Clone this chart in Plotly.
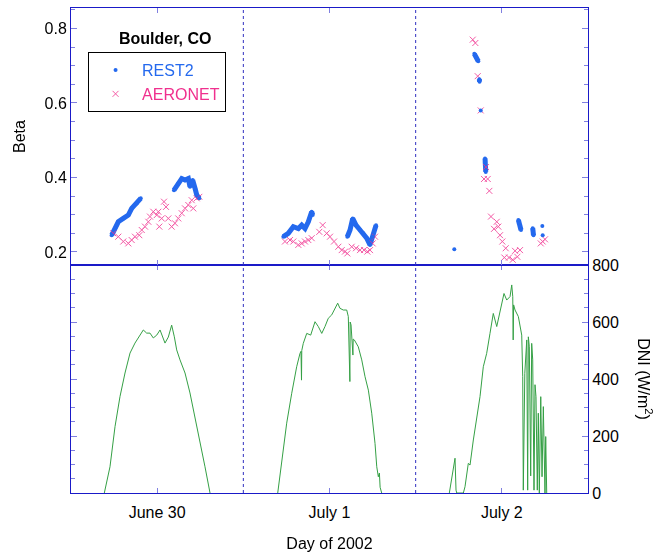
import plotly.graph_objects as go

# ---------------- data (hours since June 30 00:00 local) ----------------
dni_t = [4.64, 5.43, 6.13, 6.82, 7.52, 8.22, 8.91, 9.61, 10.07, 10.54, 11.0, 11.46, 11.94, 12.40,
         13.09, 13.55, 14.02, 14.39, 14.72, 15.18, 15.88, 16.57, 17.27, 17.97, 18.66, 19.36, None,
         28.79, 29.34, 30.04, 30.74, 31.43, 31.89, 32.03, 32.10, 32.14, 32.35, 32.83, 33.38, 33.98,
         34.44, 34.92, 35.37, 35.83, 36.31, 36.77, 37.14, 37.46, 37.92, 38.40, 38.62, 38.84, 38.88,
         39.00, 39.18, 39.26, 39.30, 39.46, 40.01, 40.49, 40.95, 41.41, 41.88, 42.34, 42.58, 42.80,
         42.95, 43.05, 43.27, None,
         52.69, 53.02, 53.48, 53.62, 53.72, 54.64, 54.87, 55.33, 55.57, 56.03, 56.50, 56.96, 57.42,
         57.89, 58.35, 58.81, 59.29, 59.75, 60.30, 60.68, 61.14, 61.38, 61.52, 61.58, 61.64, 61.84,
         62.30, 62.77, 62.91, 62.99, 63.20, 63.47, 63.60, 63.69, 63.83, 64.02, 64.16, 64.30, 64.48,
         64.62, 64.76, 64.94, 65.08, 65.22, 65.42, 65.60, 65.78, 66.01, 66.11, 66.25]
dni_v = [0, 92, 233, 338, 421, 491, 526, 554, 572, 561, 561, 544, 554, 572,
         526, 547, 589, 548, 502, 467, 421, 351, 268, 175, 92, 0, None,
         0, 104, 245, 350, 443, 490, 497, 396, 500, 525, 560, 554, 601,
         584, 560, 584, 613, 625, 648, 666, 648, 642, 642, 619, 391, 600,
         590, 525, 484, 540, 537, 513, 467, 408, 361, 280, 174, 92, 57,
         70, 20, 0, None,
         0, 57, 122, 10, 0, 0, 22, 104, 98, 186, 262, 338, 443,
         490, 560, 630, 584, 642, 700, 677, 689, 730, 689, 537, 660, 642,
         619, 554, 408, 10, 420, 537, 10, 548, 513, 60, 525, 467, 10,
         380, 338, 10, 280, 0, 338, 57, 303, 0, 198, 0]

rest2_t = [5.67, 6.13, 6.59, 7.28, 7.98, 8.45, 9.15, 9.71, None,
           14.34, 14.94, 15.42, 15.88, 16.34, 16.57, 16.95, 17.27, 17.51, 17.87, None,
           29.57, 30.26, 30.96, 31.66, 32.13, 32.59, 33.05, 33.52, 33.66, None,
           38.48, 38.86, 39.23, 39.69, 40.25, 40.71, 41.18, 41.64, 42.01, 42.48, None,
           53.38, None, 56.17, 56.40, 56.72, None, 56.86, 56.90, None, 57.06, None,
           57.66, 57.76, None, 62.30, 62.53, 62.67, None, 64.30, 64.41, None, 65.64, None, 65.69]
rest2_b = [0.245, 0.263, 0.281, 0.290, 0.299, 0.317, 0.330, 0.344, None,
           0.366, 0.384, 0.397, 0.393, 0.397, 0.375, 0.393, 0.371, 0.353, 0.344, None,
           0.241, 0.250, 0.268, 0.263, 0.272, 0.263, 0.281, 0.308, 0.299, None,
           0.241, 0.259, 0.290, 0.272, 0.259, 0.250, 0.237, 0.219, 0.241, 0.272, None,
           0.207, None, 0.732, 0.722, 0.712, None, 0.664, 0.657, None, 0.580, None,
           0.451, 0.415, None, 0.286, 0.270, 0.259, None, 0.264, 0.245, None, 0.270, None, 0.245]

aeronet_t = [5.89, 6.59, 7.28, 7.98, 8.45, 8.91, 9.51, 9.85, 10.31, 10.77, 11.0, 11.46, 11.94,
             12.16, 12.30, 12.63, 12.95, 13.23, 13.55, 14.02, 14.48, 14.94, 15.42, 15.88, 16.34,
             16.81, 17.03, 17.51, 17.87,
             29.80, 30.50, 30.96, 31.66, 32.13, 32.59, 33.05, 33.52, 34.58, 35.05, 35.61, 36.07,
             36.63, 37.23, 37.70, 38.16, 38.48, 39.09, 39.69, 40.25, 40.81, 41.27, 41.64, 42.01, 42.34,
             55.95, 56.31, 56.64, 57.06, 57.52, 57.80, 58.03, 58.26, 58.49, 58.91, 59.29, 59.51,
             59.75, 60.07, 60.35, 60.54, 61.00, 61.52, 61.84, 62.16, 62.53, 65.42, 65.69, 66.01]
aeronet_b = [0.250, 0.241, 0.228, 0.223, 0.232, 0.241, 0.245, 0.259, 0.268, 0.281, 0.295, 0.308, 0.299,
             0.308, 0.268, 0.290, 0.335, 0.321, 0.290, 0.268, 0.277, 0.290, 0.304, 0.317, 0.326,
             0.339, 0.317, 0.344, 0.348,
             0.228, 0.232, 0.228, 0.219, 0.223, 0.228, 0.232, 0.237, 0.254, 0.272, 0.250, 0.241,
             0.228, 0.214, 0.205, 0.201, 0.196, 0.214, 0.210, 0.205, 0.205, 0.201, 0.205, 0.223, 0.241,
             0.770, 0.761, 0.672, 0.580, 0.396, 0.428, 0.396, 0.364, 0.295, 0.262, 0.281, 0.268,
             0.245, 0.228, 0.185, 0.210, 0.185, 0.179, 0.203, 0.187, 0.205, 0.223, 0.228, 0.234]

day_ticks = [12, 36, 60]
day_labels = ["June 30", "July 1", "July 2"]
day_bounds = [24, 48]

# ---------------- figure ----------------
BLUE_AX = "#1a1ac8"
C_REST2 = "#2469ee"
C_AERO = "#f0308e"
C_DNI = "#35a045"
FONT = "Liberation Sans, Arial, sans-serif"

fig = go.Figure()

fig.add_trace(go.Scatter(x=dni_t, y=dni_v, mode="lines", xaxis="x", yaxis="y",
                         line=dict(color=C_DNI, width=1), showlegend=False, connectgaps=False))

fig.add_trace(go.Scatter(x=rest2_t, y=rest2_b, mode="lines", xaxis="x2", yaxis="y2",
                         line=dict(color=C_REST2, width=5), showlegend=False, hoverinfo="skip"))
fig.add_trace(go.Scatter(x=aeronet_t, y=aeronet_b, mode="markers", xaxis="x2", yaxis="y2",
                         name="<span style='color:%s'>AERONET</span>" % C_AERO,
                         marker=dict(symbol="x-thin-open", size=6, color=C_AERO,
                                     line=dict(color=C_AERO, width=1)), opacity=0.8))
fig.add_trace(go.Scatter(x=rest2_t, y=rest2_b, mode="markers", xaxis="x2", yaxis="y2",
                         name="<span style='color:%s'>REST2</span>" % C_REST2,
                         marker=dict(symbol="circle", size=4, color=C_REST2)))

split = 228 / 485
axis_common = dict(showline=True, linecolor=BLUE_AX, linewidth=1, mirror="ticks",
                   ticks="inside", tickcolor="#8080e0", showgrid=False, zeroline=False,
                   automargin=False)

fig.update_layout(
    width=654, height=557,
    margin=dict(l=71, r=66, t=8, b=64),
    paper_bgcolor="white", plot_bgcolor="white",
    font=dict(family=FONT, size=16, color="black"),
    xaxis=dict(domain=[0, 1], range=[0, 72], tickvals=day_ticks, ticktext=day_labels,
               ticklen=5, ticklabelstandoff=5,
               title=dict(text="Day of 2002", font=dict(size=16), standoff=17),
               anchor="y", **axis_common),
    yaxis=dict(domain=[0, split], range=[0, 800], side="right", tickvals=[0, 200, 400, 600, 800],
               ticklen=6, minor=dict(dtick=50, ticklen=4, ticks="inside", tickcolor="#8080e0"),
               anchor="x", **axis_common),
    xaxis2=dict(domain=[0, 1], range=[0, 72], matches="x", tickvals=day_ticks, showticklabels=False,
                ticklen=5, anchor="y2", **axis_common),
    yaxis2=dict(domain=[split, 1], range=[0.165, 0.855], tickvals=[0.2, 0.4, 0.6, 0.8],
                tickformat=".1f", ticklen=6,
                minor=dict(dtick=0.05, ticklen=4, ticks="inside", tickcolor="#8080e0"),
                title=dict(text="Beta", font=dict(size=16), standoff=14),
                anchor="x2", **axis_common),
    legend=dict(x=0.033, y=0.909, xanchor="left", yanchor="top", bgcolor="white",
                bordercolor="black", borderwidth=1, font=dict(size=16, family=FONT),
                traceorder="reversed", itemwidth=43, tracegroupgap=0),
    showlegend=True,
)

for b in day_bounds:
    fig.add_shape(type="line", xref="x", yref="paper", x0=b, x1=b, y0=0, y1=1,
                  line=dict(color="#3030c0", width=1, dash="dot"))

fig.add_annotation(text="<b>Boulder, CO</b>", xref="paper", yref="paper", x=0.182, y=0.938,
                   showarrow=False, font=dict(size=16, family=FONT), xanchor="center", yanchor="middle")
fig.add_annotation(text="DNI (W/m<sup>2</sup>)", xref="paper", yref="paper", x=1.11, y=0.235,
                   showarrow=False, textangle=90, font=dict(size=16, family=FONT),
                   xanchor="center", yanchor="middle")

fig.write_html("out.html")
